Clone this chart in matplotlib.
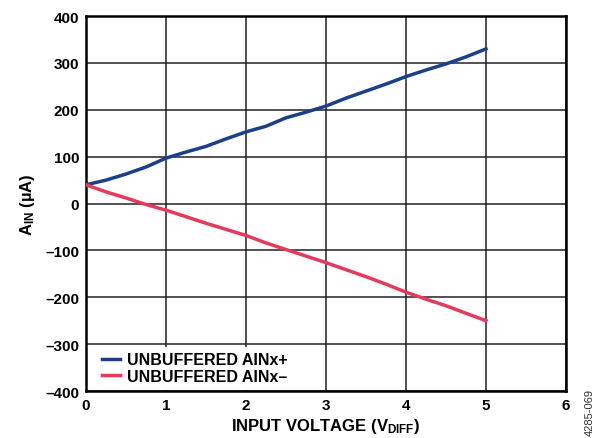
import matplotlib
matplotlib.use("Agg")
import matplotlib.pyplot as plt

plt.rcParams['font.family'] = ['Liberation Sans', 'DejaVu Sans']
plt.rcParams['font.weight'] = 'bold'
plt.rcParams['mathtext.fontset'] = 'custom'
plt.rcParams['mathtext.rm'] = 'Liberation Sans:bold'
plt.rcParams['mathtext.it'] = 'Liberation Sans:bold'
plt.rcParams['mathtext.bf'] = 'Liberation Sans:bold'

voltage = [0, 0.25, 0.5, 0.75, 1, 1.25, 1.5, 1.75, 2, 2.25, 2.5, 2.75, 3,
           3.25, 3.5, 3.75, 4, 4.25, 4.5, 4.75, 5]
ain_pos = [40, 50, 63, 78, 97, 110, 122, 138, 153, 165, 183, 195, 208,
           225, 240, 255, 271, 285, 298, 313, 330]
ain_neg = [40, 25, 12, -2, -14, -28, -42, -55, -68, -84, -98, -112, -126,
           -141, -156, -172, -189, -204, -218, -234, -250]
series_labels = ["UNBUFFERED AINx+", "UNBUFFERED AINx–"]
xticks = [0, 1, 2, 3, 4, 5, 6]
yticks = [-400, -300, -200, -100, 0, 100, 200, 300, 400]
ytick_labels = ["–400", "–300", "–200", "–100", "0", "100", "200", "300", "400"]

fig = plt.figure(figsize=(5.97, 4.39), dpi=100)
ax = fig.add_axes([0.144, 0.107, 0.804, 0.854])

ax.plot(voltage, ain_pos, color='#1b3f8b', lw=2.5, label=series_labels[0], zorder=3)
ax.plot(voltage, ain_neg, color='#e63a5c', lw=2.5, label=series_labels[1], zorder=3)

ax.set_xlim(0, 6)
ax.set_ylim(-400, 400)
ax.set_xticks(xticks)
ax.set_yticks(yticks)
ax.set_yticklabels(ytick_labels)
ax.tick_params(length=0, labelsize=11, pad=5)
for lab in ax.get_xticklabels() + ax.get_yticklabels():
    lab.set_fontweight('bold')
ax.grid(True, color='#222222', lw=1.1)
ax.set_axisbelow(True)
for s in ax.spines.values():
    s.set_linewidth(1.8)
    s.set_color('black')

ax.set_xlabel(r"INPUT VOLTAGE (V$_{\mathregular{DIFF}}$)", fontsize=12, fontweight='bold', labelpad=3)
ax.set_ylabel(r"A$_{\mathregular{IN}}$ (µA)", fontsize=12, fontweight='bold', labelpad=6)

leg = ax.legend(loc='lower left', bbox_to_anchor=(10 / 480, 0.004), frameon=True,
                fontsize=11.5, handlelength=1.15, handletextpad=0.45,
                borderaxespad=0.0, labelspacing=0.1, borderpad=0.35)
leg.get_frame().set_facecolor('white')
leg.get_frame().set_edgecolor('none')
leg.get_frame().set_alpha(1)
leg.get_frame().set_boxstyle('square', pad=0)
for t in leg.get_texts():
    t.set_fontweight('bold')

fig.text(590 / 597, 3 / 439, "4285-069", rotation=90, fontsize=8, fontweight='normal',
         color='#333333', ha='center', va='bottom', transform=fig.transFigure)

fig.savefig("out.png", dpi=100)
